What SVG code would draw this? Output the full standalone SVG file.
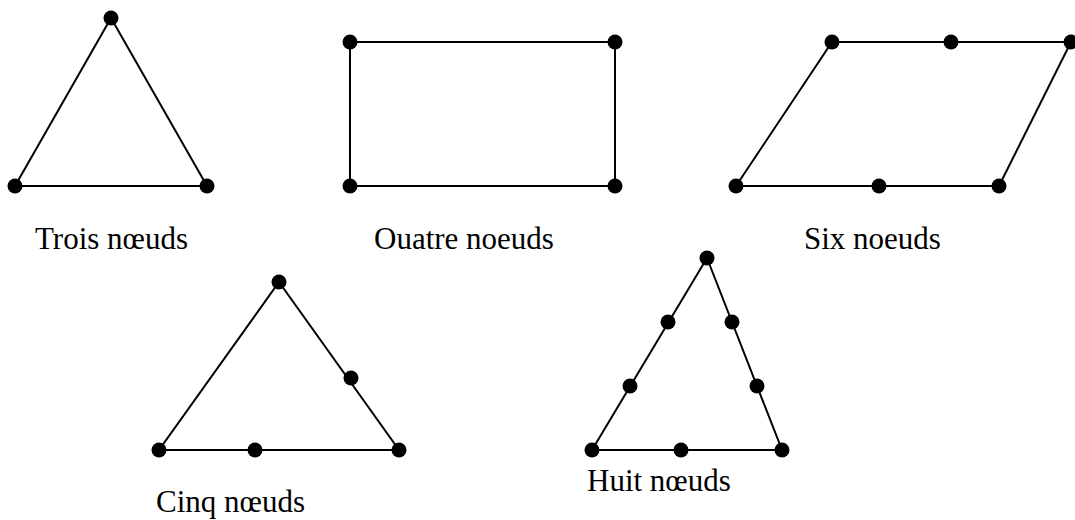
<svg xmlns="http://www.w3.org/2000/svg" width="1075" height="520" viewBox="0 0 1075 520">
<style>
.edge{fill:none;stroke:#000;stroke-width:2}
.node{fill:#000}
.lbl{font-family:"Liberation Serif","Times New Roman",serif;font-size:31px;fill:#000}
</style>
<rect width="1075" height="520" fill="#fff"/>
<g id="connectors">
<polygon class="edge" points="111,18 15,186 207,186"/>
<polygon class="edge" points="350,42 615,42 615,186 350,186"/>
<polygon class="edge" points="832,42 1071,42 999,186 736,186"/>
<polygon class="edge" points="279,282 399,450 159,450"/>
<polygon class="edge" points="707,258 782,450 592,450"/>
</g>
<g id="trois">
<circle class="node" cx="111" cy="18" r="7.5"/>
<circle class="node" cx="15" cy="186" r="7.5"/>
<circle class="node" cx="207" cy="186" r="7.5"/>
<text class="lbl" x="35" y="249">Trois nœuds</text>
</g>
<g id="quatre">
<circle class="node" cx="350" cy="42" r="7.5"/>
<circle class="node" cx="615" cy="42" r="7.5"/>
<circle class="node" cx="350" cy="186" r="7.5"/>
<circle class="node" cx="615" cy="186" r="7.5"/>
<text class="lbl" x="374" y="249">Ouatre noeuds</text>
</g>
<g id="six">
<circle class="node" cx="832" cy="42" r="7.5"/>
<circle class="node" cx="951" cy="42" r="7.5"/>
<circle class="node" cx="1071" cy="42" r="7.5"/>
<circle class="node" cx="736" cy="186" r="7.5"/>
<circle class="node" cx="879" cy="186" r="7.5"/>
<circle class="node" cx="999" cy="186" r="7.5"/>
<text class="lbl" x="804" y="249">Six noeuds</text>
</g>
<g id="cinq">
<circle class="node" cx="279" cy="282" r="7.5"/>
<circle class="node" cx="351" cy="378" r="7.5"/>
<circle class="node" cx="159" cy="450" r="7.5"/>
<circle class="node" cx="255" cy="450" r="7.5"/>
<circle class="node" cx="399" cy="450" r="7.5"/>
<text class="lbl" x="156" y="512">Cinq nœuds</text>
</g>
<g id="huit">
<circle class="node" cx="707" cy="258" r="7.5"/>
<circle class="node" cx="668" cy="322" r="7.5"/>
<circle class="node" cx="630" cy="386" r="7.5"/>
<circle class="node" cx="592" cy="450" r="7.5"/>
<circle class="node" cx="681" cy="450" r="7.5"/>
<circle class="node" cx="782" cy="450" r="7.5"/>
<circle class="node" cx="732" cy="322" r="7.5"/>
<circle class="node" cx="757" cy="386" r="7.5"/>
<text class="lbl" x="587" y="491">Huit nœuds</text>
</g>
</svg>
